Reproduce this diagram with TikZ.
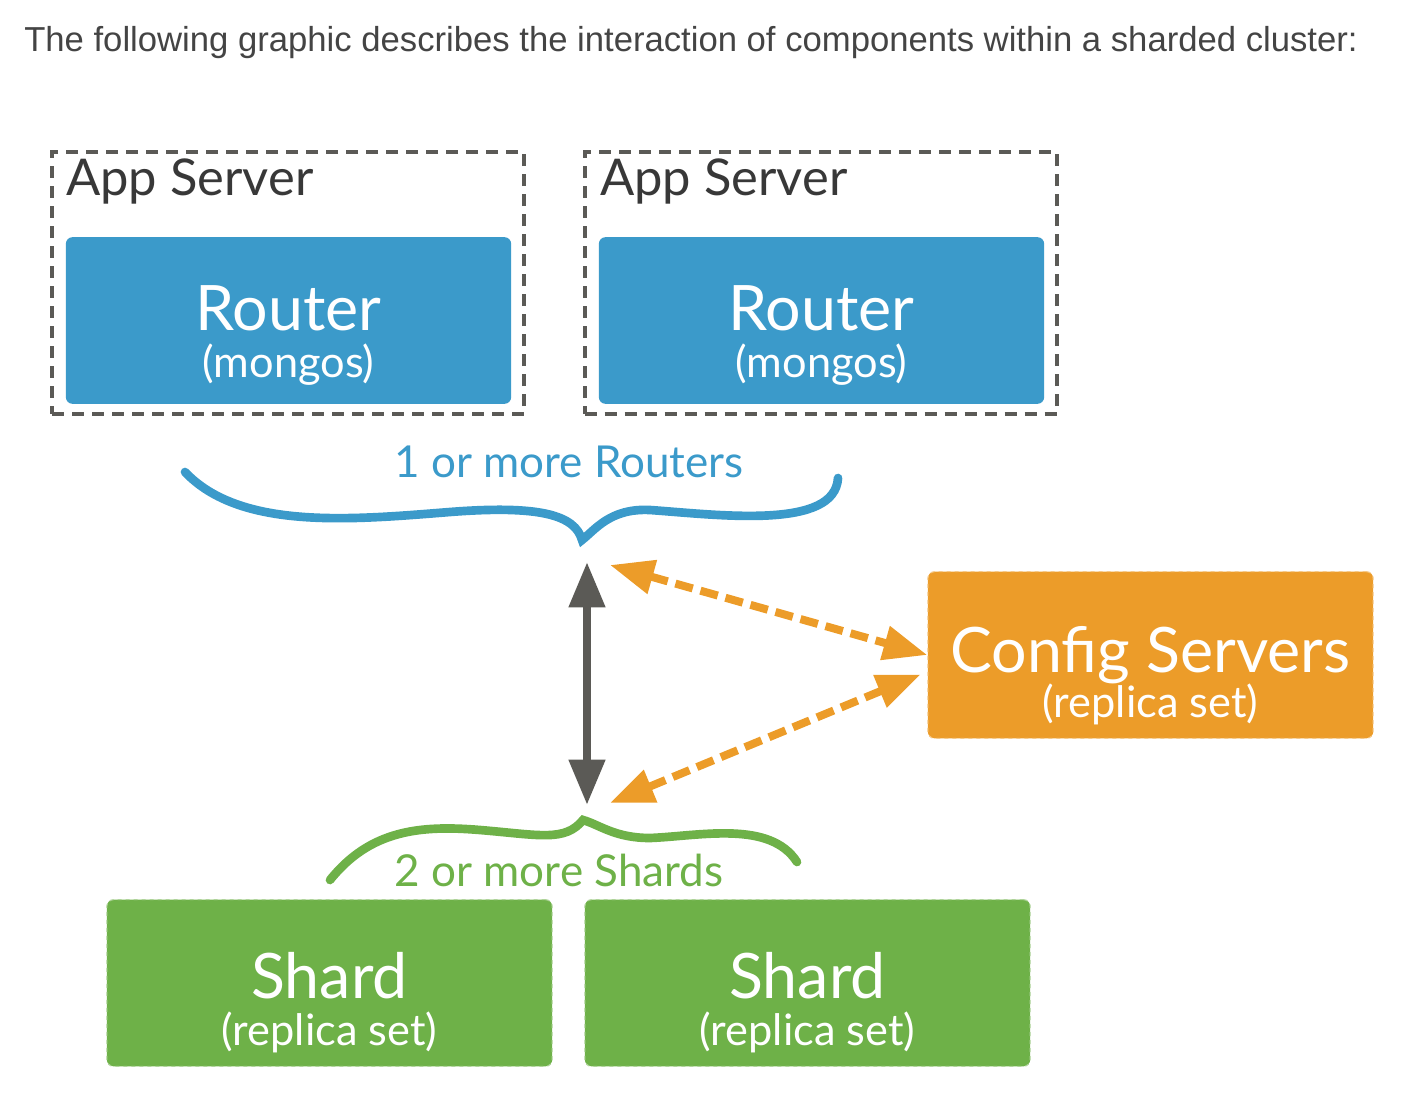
\documentclass[tikz,border=0pt]{standalone}
\usepackage{fontspec}
\setmainfont{Lato}
\newfontfamily\headfont{Liberation Sans}
\usetikzlibrary{arrows.meta}
\definecolor{routerblue}{HTML}{3B9ACA}
\definecolor{configorange}{HTML}{EC9C29}
\definecolor{shardgreen}{HTML}{6EB148}
\definecolor{linegray}{HTML}{5B5A56}
\definecolor{headgray}{HTML}{444444}
\tikzstyle{heading}=[font=\headfont\fontsize{26}{30}\selectfont,text=headgray,inner sep=0pt]
\tikzstyle{appserver}=[draw=linegray,line width=3pt,dash pattern=on 9pt off 6pt,minimum width=354pt,minimum height=196.5pt,inner sep=0pt]
\tikzstyle{applabel}=[font=\fontsize{38}{40}\selectfont,text=black!78,inner sep=0pt]
\tikzstyle{box}=[rounded corners=5pt,minimum width=334pt,minimum height=125pt,inner sep=0pt]
\tikzstyle{bigtext}=[font=\fontsize{47}{50}\selectfont,text=white,inner sep=0pt]
\tikzstyle{smalltext}=[font=\fontsize{32.5}{34}\selectfont,text=white,inner sep=0pt]
\tikzstyle{countlabel}=[font=\fontsize{33}{36}\selectfont,inner sep=0pt]
\tikzstyle{brace}=[line width=6.5pt,line cap=round]
\tikzstyle{link}=[draw=linegray,line width=6.5pt,{Triangle[length=34pt,width=26pt]}-{Triangle[length=34pt,width=26pt]}]
\tikzstyle{configlink}=[draw=configorange,line width=6pt,dash pattern=on 13.5pt off 6pt,{Triangle[length=33pt,width=25pt]}-{Triangle[length=33pt,width=25pt]}]

\begin{document}
\begin{tikzpicture}[x=0.75pt,y=-0.75pt]
  \useasboundingbox (0,0) rectangle (1428,1106);
  \node[heading,anchor=base west] (title) at (24,52) {The following graphic describes the interaction of components within a sharded cluster:};

  % First we draw the app servers with their routers
  \foreach \x/\lx/\rx/\name in {288/66/288.5/a, 820.5/600/821.5/b} {
    \node[appserver] (app\name) at (\x,283) {};
    \node[applabel,anchor=base west] (applabel\name) at (\lx,195) {App Server};
    \node[box,fill=routerblue] (router\name) at (\rx,320.5) {};
    \node[bigtext,anchor=base] (routertext\name) at (\rx,330) {Router};
    \node[smalltext,anchor=base] (mongos\name) at (\rx,377) {(mongos)};
  }

  % Then the config servers and the shards
  \node[box,fill=configorange,draw=configorange!55!white,dashed,line width=0.8pt] (config) at (1150.5,655) {};
  \node[bigtext,anchor=base] (configtext) at (1150.5,672) {Config Servers};
  \node[smalltext,anchor=base] (configset) at (1150.5,717) {(replica set)};
  \foreach \x/\name in {329.5/a, 807.5/b} {
    \node[box,fill=shardgreen,draw=shardgreen!55!white,dashed,line width=0.8pt] (shard\name) at (\x,983) {};
    \node[bigtext,anchor=base] (shardtext\name) at (\x,998) {Shard};
    \node[smalltext,anchor=base] (shardset\name) at (\x,1045) {(replica set)};
  }

  % Braces with their counts
  \node[countlabel,text=routerblue,anchor=base] (routercount) at (569,477) {1 or more Routers};
  \draw[brace,routerblue] (185,472) .. controls (240,530) and (350,520) .. (450,512)
    .. controls (540,505) and (575,515) .. (582,540)
    .. controls (595,530) and (610,508) .. (650,510)
    .. controls (720,515) and (835,530) .. (838,478);
  \node[countlabel,text=shardgreen,anchor=base] (shardcount) at (559,886) {2 or more Shards};
  \draw[brace,shardgreen] (330,880) .. controls (370,830) and (420,825) .. (480,830)
    .. controls (540,835) and (565,842) .. (583,820)
    .. controls (600,825) and (615,838) .. (650,838)
    .. controls (700,836) and (770,820) .. (797,862);

  % Connect the parts
  \coordinate (routtip) at (587,562);
  \coordinate (shardtip) at (587,805);
  \coordinate (cfgup) at (610,565);
  \coordinate (cfgdown) at (610,803);
  \path[link] (routtip) -- (shardtip);
  \path[configlink] (cfgup) -- (config.west);
  \path[configlink] (cfgdown) -- ([xshift=-5pt]config.185);
\end{tikzpicture}
\end{document}
